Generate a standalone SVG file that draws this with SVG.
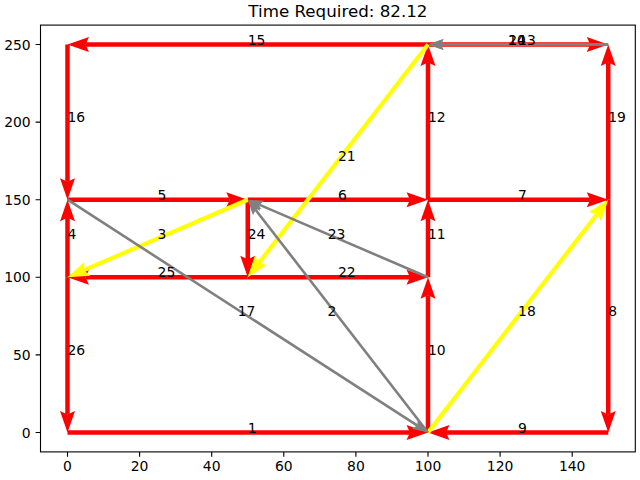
<svg xmlns="http://www.w3.org/2000/svg" width="640" height="480" viewBox="0 0 640 480">
<style>
text{font-family:"DejaVu Sans","Liberation Sans",sans-serif;fill:#000}
.tk{font-size:13.9px}
.lb{font-size:13.9px}
.c{text-anchor:middle}
.r{fill:none;stroke:#ff0000;stroke-width:4.5;marker-end:url(#hr)}
.y{fill:none;stroke:#ffff00;stroke-width:4.2;marker-end:url(#hy)}
.g{fill:none;stroke:#808080;stroke-width:2.6;marker-end:url(#hg)}
.ax{stroke:#000;stroke-width:1.1;fill:none}
</style>
<defs>
<marker id="hr" markerUnits="userSpaceOnUse" orient="auto" refX="0" refY="0" markerWidth="40" markerHeight="40" viewBox="-20 -20 40 40" overflow="visible">
<path d="M0,0 L-3.5,-7.5 L18,0 L-3.5,7.5 Z" fill="#ff0000"/>
</marker>
<marker id="hy" markerUnits="userSpaceOnUse" orient="auto" refX="0" refY="0" markerWidth="40" markerHeight="40" viewBox="-20 -20 40 40" overflow="visible">
<path d="M0,0 L-3.5,-7.5 L18,0 L-3.5,7.5 Z" fill="#ffff00"/>
</marker>
<marker id="hg" markerUnits="userSpaceOnUse" orient="auto" refX="0" refY="0" markerWidth="40" markerHeight="40" viewBox="-20 -20 40 40" overflow="visible">
<path d="M0,0 L-2.5,-5.5 L13,0 L-2.5,5.5 Z" fill="#808080"/>
</marker>
</defs>
<rect width="640" height="480" fill="#fff"/>
<text x="337.9" y="17" class="c" style="font-size:16.7px">Time Required: 82.12</text>
<g id="axes">
<rect x="40.5" y="25.1" width="594.8" height="426.8" class="ax"/>
<path class="ax" d="M67.5,451.9v4.9M139.6,451.9v4.9M211.7,451.9v4.9M283.8,451.9v4.9M355.9,451.9v4.9M428,451.9v4.9M500.1,451.9v4.9M572.2,451.9v4.9M40.5,432.5h-4.9M40.5,354.9h-4.9M40.5,277.3h-4.9M40.5,199.7h-4.9M40.5,122.1h-4.9M40.5,44.5h-4.9"/>
<g class="tk c">
<text x="67.5" y="471">0</text><text x="139.6" y="471">20</text><text x="211.7" y="471">40</text><text x="283.8" y="471">60</text><text x="355.9" y="471">80</text><text x="428" y="471">100</text><text x="500.1" y="471">120</text><text x="572.2" y="471">140</text>
</g>
<g class="tk" text-anchor="end">
<text x="30.7" y="437.5">0</text><text x="30.7" y="359.9">50</text><text x="30.7" y="282.3">100</text><text x="30.7" y="204.7">150</text><text x="30.7" y="127.1">200</text><text x="30.7" y="49.5">250</text>
</g>
</g>
<g id="connectors">
<path id="e1" class="r" d="M67.5,432.5H410"/>
<path id="e9" class="r" d="M608.25,432.5H446"/>
<path id="e26" class="r" d="M67.5,277.3V414.5"/>
<path id="e4" class="r" d="M67.5,277.3V217.7"/>
<path id="e16" class="r" d="M67.5,44.5V181.7"/>
<path id="e15" class="r" d="M428,44.5H85.5"/>
<path id="e5" class="r" d="M67.5,199.7H229.75"/>
<path id="e6" class="r" d="M247.75,199.7H410"/>
<path id="e7" class="r" d="M428,199.7H590.25"/>
<path id="e8" class="r" d="M608.25,199.7V414.5"/>
<path id="e19" class="r" d="M608.25,199.7V62.5"/>
<path id="e12" class="r" d="M428,199.7V62.5"/>
<path id="e11" class="r" d="M428,277.3V217.7"/>
<path id="e10" class="r" d="M428,432.5V295.3"/>
<path id="e24" class="r" d="M247.75,199.7V259.3"/>
<path id="e25" class="r" d="M247.75,277.3H85.5"/>
<path id="e22" class="r" d="M247.75,277.3H410"/>
<path id="e13" class="r" d="M428,44.5H590.25"/>
<path id="e3" class="y" d="M247.75,199.7L84.04,270.18"/>
<path id="e21" class="y" d="M428,44.5L258.77,263.07"/>
<path id="e18" class="y" d="M428,432.5L597.23,213.93"/>
<path id="e2" class="g" d="M428,432.5L255.71,209.98"/>
<path id="e17" class="g" d="M67.5,199.7L417.08,425.45"/>
<path id="e23" class="g" d="M428,277.3L259.69,204.84"/>
<path id="e14" class="g" d="M608.25,44.5H441"/>
<path id="e20" class="g" d="M608.25,44.5H441"/>
</g>
<g id="edge-labels" class="lb">
<text x="247.75" y="432.5">1</text>
<text x="518.1" y="432.5">9</text>
<text x="67.5" y="354.9">26</text>
<text x="67.5" y="238.5">4</text>
<text x="67.5" y="122.1">16</text>
<text x="247.75" y="44.5">15</text>
<text x="157.6" y="199.7">5</text>
<text x="337.9" y="199.7">6</text>
<text x="518.1" y="199.7">7</text>
<text x="608.25" y="316.1">8</text>
<text x="608.25" y="122.1">19</text>
<text x="428" y="122.1">12</text>
<text x="428" y="238.5">11</text>
<text x="428" y="354.9">10</text>
<text x="247.75" y="238.5">24</text>
<text x="157.6" y="277.3">25</text>
<text x="337.9" y="277.3">22</text>
<text x="518.1" y="44.5">13</text>
<text x="157.6" y="238.5">3</text>
<text x="337.9" y="160.9">21</text>
<text x="518.1" y="316.1">18</text>
<text x="332" y="316.1" class="c">2</text>
<text x="246.5" y="316.1" class="c">17</text>
<text x="336.5" y="238.5" class="c">23</text>
<text x="517" y="44.5" class="c">14</text>
<text x="517" y="44.5" class="c">20</text>
</g>
</svg>
